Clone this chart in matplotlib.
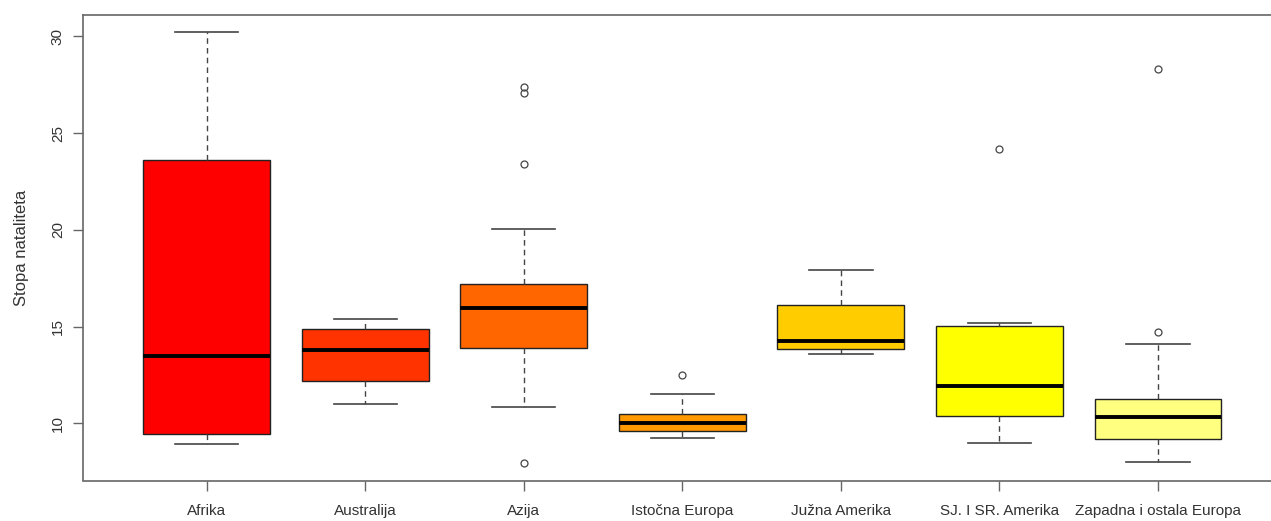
import matplotlib
matplotlib.use('Agg')
import matplotlib.pyplot as plt

# podaci očitani sa slike
regije = ["Afrika", "Australija", "Azija", "Istočna Europa", "Južna Amerika",
          "SJ. I SR. Amerika", "Zapadna i ostala Europa"]
donji_brk = [8.95, 11.0, 10.84, 9.24, 13.6, 9.0, 8.02]
q1 = [9.47, 12.17, 13.91, 9.6, 13.86, 10.4, 9.17]
medijan = [13.5, 13.81, 15.98, 10.02, 14.26, 11.93, 10.35]
q3 = [23.6, 14.86, 17.19, 10.5, 16.14, 15.03, 11.24]
gornji_brk = [30.24, 15.42, 20.05, 11.5, 17.92, 15.21, 14.1]
outlieri = [[], [], [27.37, 27.09, 23.43, 7.97], [12.48], [], [24.16], [28.31, 14.72]]
boje = ["#FF0000", "#FF3300", "#FF6600", "#FF9900", "#FFCC00", "#FFFF00", "#FFFF80"]

plt.rcParams['font.family'] = ['Liberation Sans', 'DejaVu Sans']

fig = plt.figure(figsize=(12.71, 5.21), dpi=100)
ax = fig.add_axes([83 / 1271, 1 - 480.5 / 521, (1281.6 - 83) / 1271, (480.5 - 14.7) / 521])

stats = []
for i in range(len(regije)):
    stats.append({"med": medijan[i], "q1": q1[i], "q3": q3[i],
                  "whislo": donji_brk[i], "whishi": gornji_brk[i],
                  "fliers": outlieri[i], "label": regije[i]})

bp = ax.bxp(stats, positions=range(1, len(regije) + 1), widths=0.8,
            patch_artist=True, capwidths=0.4,
            boxprops=dict(edgecolor="#222222", linewidth=1.0),
            medianprops=dict(color="black", linewidth=2.8, solid_capstyle="butt"),
            whiskerprops=dict(color="#444444", linewidth=1.0, linestyle=(0, (4, 3))),
            capprops=dict(color="#444444", linewidth=1.2),
            flierprops=dict(marker="o", markersize=5, markerfacecolor="none",
                            markeredgecolor="#444444", markeredgewidth=0.9))
for patch, c in zip(bp["boxes"], boje):
    patch.set_facecolor(c)

ax.set_xlim(0.22, 7.78)
ax.set_ylim(7.05, 31.12)
ax.set_yticks([10, 15, 20, 25, 30])
ax.set_yticklabels(["10", "15", "20", "25", "30"], rotation=90, va="center")
ax.set_ylabel("Stopa nataliteta", fontsize=12, color="#333333", labelpad=16)

for s in ax.spines.values():
    s.set_color("#666666")
    s.set_linewidth(1.2)
ax.tick_params(axis="both", colors="#666666", labelcolor="#333333", labelsize=11,
               length=7, width=1.0)
ax.tick_params(axis="x", pad=10)
ax.tick_params(axis="y", pad=6)

fig.savefig("out.png", dpi=100)
